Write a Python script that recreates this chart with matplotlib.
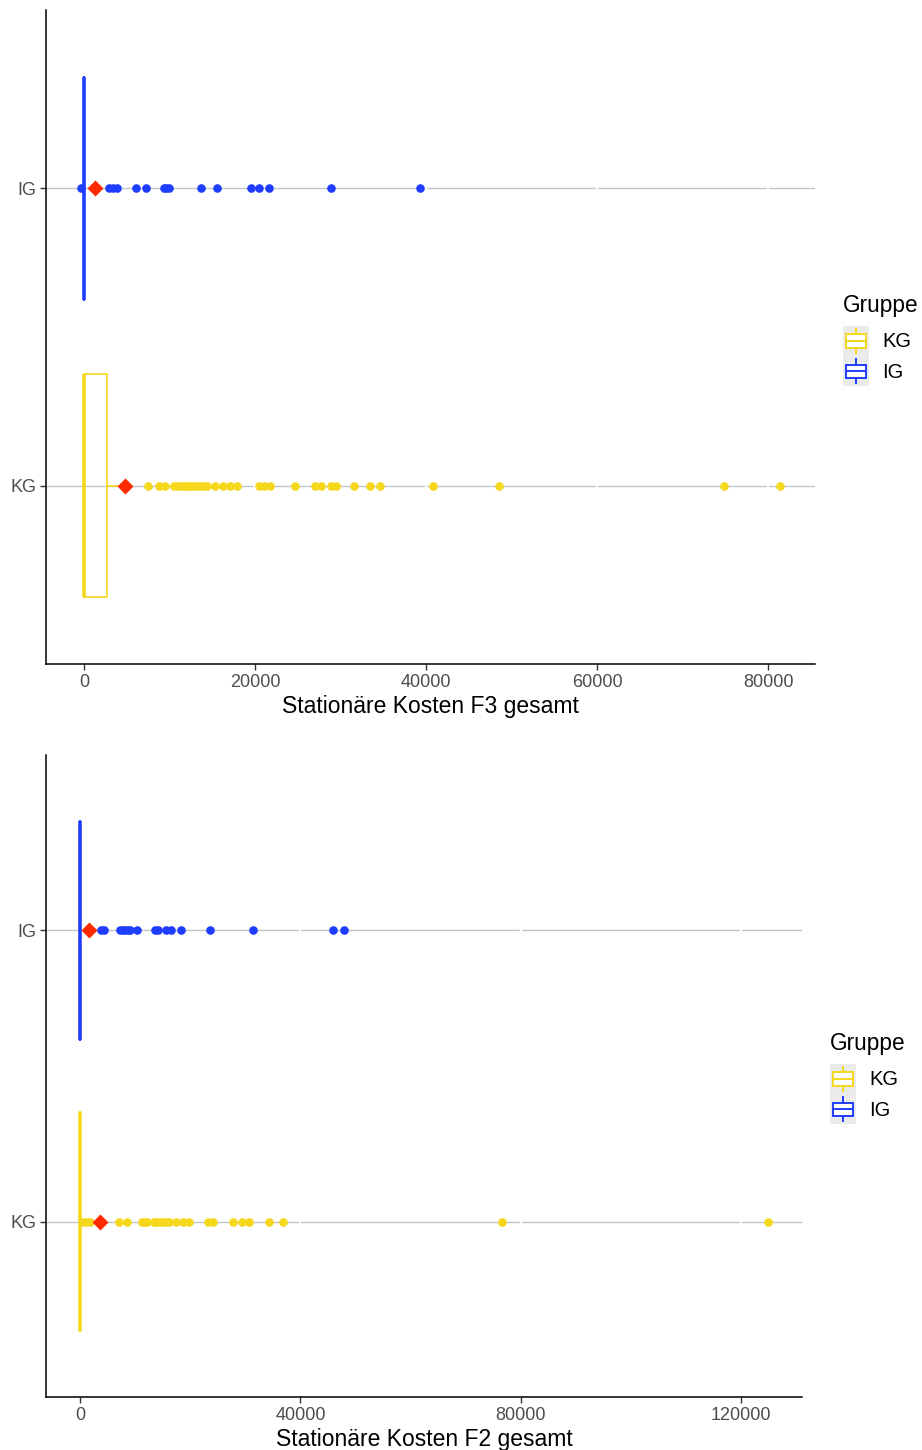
import numpy as np
import matplotlib.pyplot as plt
from matplotlib.lines import Line2D
from matplotlib.patches import Rectangle
from matplotlib.legend_handler import HandlerBase

plt.rcParams['font.family'] = ['Liberation Sans', 'DejaVu Sans']

# Group colours
col_kg = '#F5D71B'
col_ig = '#1F3DFF'
col_mean = '#FF2A00'
groups = ['KG', 'IG']

# F3: five-number summaries (q1, median, q3, whisker low, whisker high)
f3_kg_box = (0, 0, 2690, 0, 4500)
f3_ig_box = (0, 0, 0, 0, 0)
f3_kg_mean = 4800
f3_ig_mean = 1290
f3_kg_out = [7400, 8690, 9390, 10440, 10840, 11230, 11700, 12010, 12400, 12780,
             13180, 13570, 13950, 14350, 15320, 16220, 17080, 17860, 20390, 20970,
             21750, 24680, 27020, 27720, 28850, 29470, 31500, 33370, 34540, 40780,
             48540, 74850, 81400]
f3_ig_out = [-390, 2840, 3360, 3820, 6050, 7250, 9360, 9590, 9860, 13650, 15560,
             19450, 20390, 21560, 28890, 39220]
f3_ticks = [0, 20000, 40000, 60000, 80000]

# F2
f2_kg_box = (0, 0, 0, 0, 0)
f2_ig_box = (0, 0, 0, 0, 0)
f2_kg_mean = 3500
f2_ig_mean = 1630
f2_kg_out = [400, 1000, 1700, 6950, 8480, 11200, 11800, 12110, 13310, 13800, 14220,
             14830, 15430, 16030, 17430, 18640, 19660, 23180, 24090, 27830, 29360,
             30740, 34260, 36800, 76620, 124910]
f2_ig_out = [3810, 4230, 7260, 7750, 8170, 8590, 9080, 10290, 13620, 14030, 15500,
             16520, 18340, 23600, 31350, 45990, 47930]
f2_ticks = [0, 40000, 80000, 120000]


class BoxKey(HandlerBase):
    # ggplot-style boxplot legend key on a grey square
    def create_artists(self, legend, orig_handle, xdescent, ydescent, width, height,
                       fontsize, trans):
        c = orig_handle.get_color()
        x0, y0 = -xdescent, -ydescent
        bg = Rectangle((x0, y0), width, height, fc='#EBEBEB', ec='none', transform=trans)
        box = Rectangle((x0 + 0.12 * width, y0 + 0.28 * height), 0.76 * width, 0.44 * height,
                        fc='white', ec=c, lw=1.4, transform=trans)
        med = Line2D([x0 + 0.12 * width, x0 + 0.88 * width], [y0 + 0.5 * height] * 2,
                     color=c, lw=1.4, transform=trans)
        w1 = Line2D([x0 + 0.5 * width] * 2, [y0 + 0.1 * height, y0 + 0.28 * height],
                    color=c, lw=1.4, transform=trans)
        w2 = Line2D([x0 + 0.5 * width] * 2, [y0 + 0.72 * height, y0 + 0.9 * height],
                    color=c, lw=1.4, transform=trans)
        return [bg, box, med, w1, w2]


def make_stats(box, mean, out):
    q1, med, q3, lo, hi = box
    return dict(q1=q1, med=med, q3=q3, whislo=lo, whishi=hi, mean=mean, fliers=out)


def draw_panel(ax, boxes, means, outs, ticks, xlabel, legend_xy):
    colors = [col_kg, col_ig]
    for pos, (box, mean, out, c) in enumerate(zip(boxes, means, outs, colors), start=1):
        st = make_stats(box, mean, out)
        ax.bxp([st], positions=[pos], widths=0.75, vert=False, showcaps=False,
               showmeans=True, showfliers=True, patch_artist=False,
               boxprops=dict(color=c, lw=1.2),
               whiskerprops=dict(color=c, lw=1.2),
               medianprops=dict(color=c, lw=2.6),
               flierprops=dict(marker='o', markerfacecolor=c, markeredgecolor='none',
                               markersize=6.2),
               meanprops=dict(marker='D', markerfacecolor=col_mean,
                              markeredgecolor='none', markersize=8.5))
    # horizontal guides and white breaks at the x ticks
    for pos in (1, 2):
        ax.axhline(pos, color='#C4C4C4', lw=1.0, zorder=0.5)
    for t in ticks:
        ax.axvline(t, color='white', lw=1.6, zorder=0.6)

    allv = [v for o in outs for v in o] + [b[3] for b in boxes] + [b[4] for b in boxes]
    lo, hi = min(allv), max(allv)
    pad = 0.05 * (hi - lo)
    ax.set_xlim(lo - pad, hi + pad)
    ax.set_ylim(0.4, 2.6)
    ax.set_yticks([1, 2])
    ax.set_yticklabels(groups)
    ax.set_xticks(ticks)
    ax.set_xticklabels([str(t) for t in ticks])
    ax.set_xlabel(xlabel, fontsize=16.5, color='black', labelpad=3)
    ax.tick_params(colors='#4D4D4D', labelsize=13, length=4, width=1.0, pad=3)
    ax.tick_params(axis='both', color='#333333')
    for s in ('top', 'right'):
        ax.spines[s].set_visible(False)
    for s in ('left', 'bottom'):
        ax.spines[s].set_linewidth(1.1)
        ax.spines[s].set_color('black')

    handles = [Line2D([], [], color=col_kg), Line2D([], [], color=col_ig)]
    leg = fig.legend(handles, groups, title='Gruppe', loc='upper left',
                     bbox_to_anchor=legend_xy, frameon=False, fontsize=14.5,
                     title_fontsize=16.3, handlelength=1.3, handleheight=1.92,
                     labelspacing=0.0, handletextpad=0.65, borderpad=0, borderaxespad=0,
                     alignment='left', handler_map={Line2D: BoxKey()})
    # a little air between title and keys
    leg._legend_box.sep = 6.5


W, H = 922, 1450
fig = plt.figure(figsize=(W / 100, H / 100), dpi=100)

ax1 = fig.add_axes([46 / W, 1 - 664 / H, (815 - 46) / W, (664 - 10) / H])
ax2 = fig.add_axes([46 / W, 1 - 1397 / H, (802 - 46) / W, (1397 - 755) / H])

draw_panel(ax1, [f3_kg_box, f3_ig_box], [f3_kg_mean, f3_ig_mean], [f3_kg_out, f3_ig_out],
           f3_ticks, 'Stationäre Kosten F3 gesamt', (843 / W, 1 - 294 / H))
draw_panel(ax2, [f2_kg_box, f2_ig_box], [f2_kg_mean, f2_ig_mean], [f2_kg_out, f2_ig_out],
           f2_ticks, 'Stationäre Kosten F2 gesamt', (830 / W, 1 - 1032 / H))

fig.savefig('out.png', dpi=100)
